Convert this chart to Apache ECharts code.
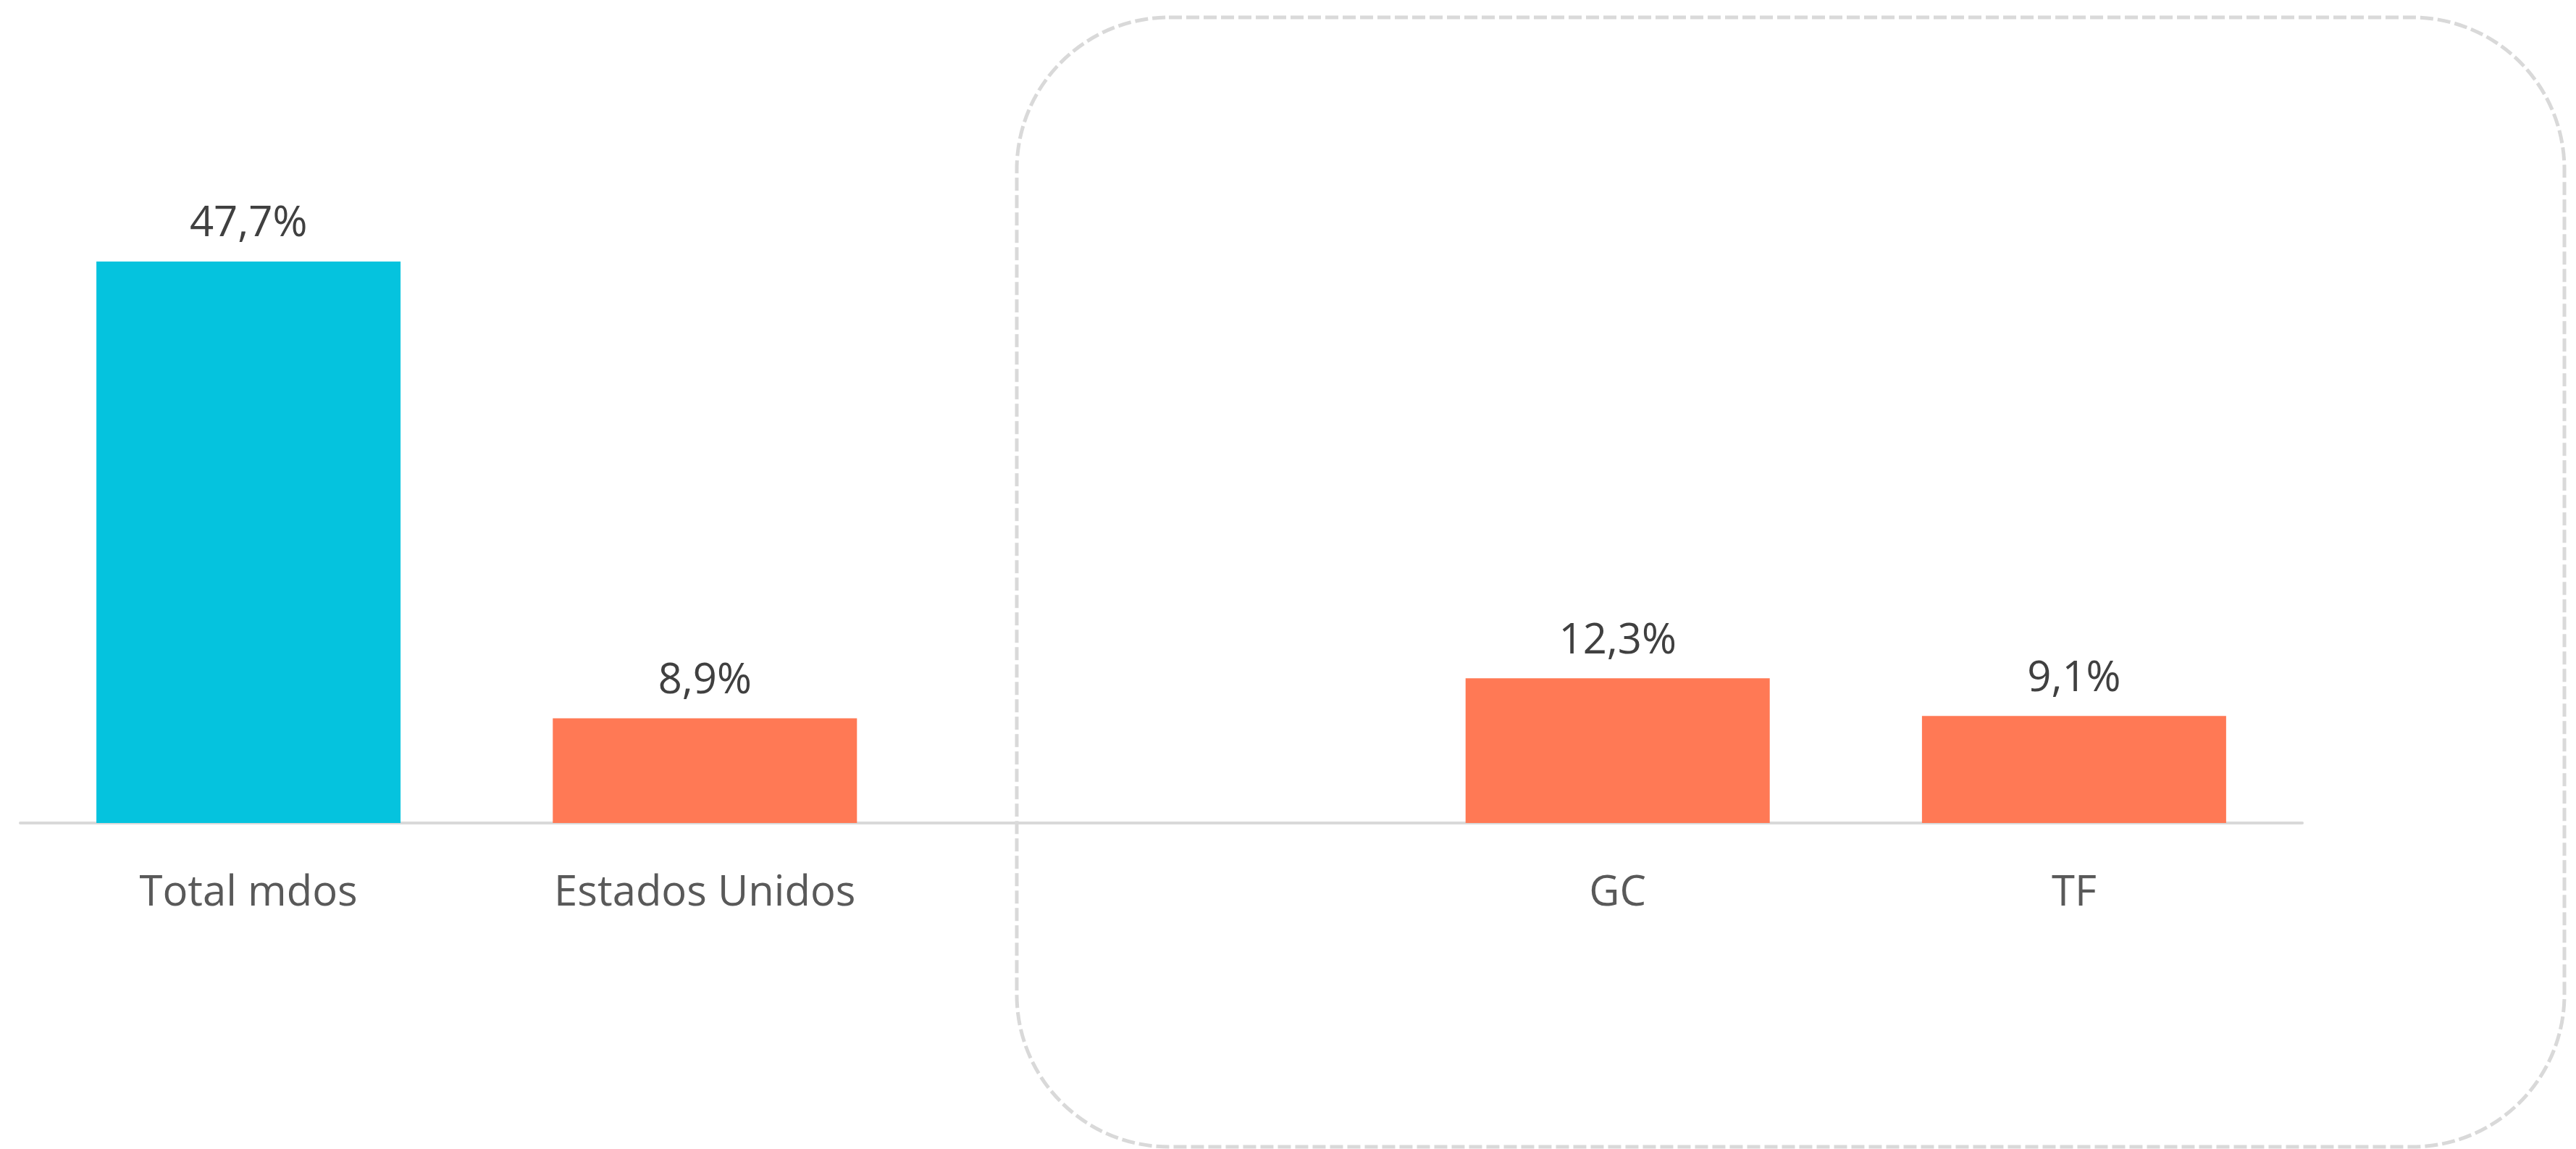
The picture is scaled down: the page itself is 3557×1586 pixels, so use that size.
<!DOCTYPE html>
<html>
<head>
<meta charset="utf-8">
<style>
html,body{margin:0;padding:0;background:#fff;}
#chart{width:3557px;height:1586px;}
</style>
<script src="https://cdn.jsdelivr.net/npm/echarts@6/dist/echarts.min.js"></script>
</head>
<body>
<div id="chart"></div>
<script>
var categories = ["Total mdos", "Estados Unidos", "", "GC", "TF"];
var values = [47.7, 8.9, null, 12.3, 9.1];
var barColors = ["#05C3DE", "#FF7955", "#FF7955", "#FF7955", "#FF7955"];

var chart = echarts.init(document.getElementById('chart'));
var seriesData = values.map(function (v, i) {
  return { value: v, itemStyle: { color: barColors[i] } };
});
chart.setOption({
  animation: false,
  backgroundColor: '#ffffff',
  grid: { left: 28, width: 3151, top: 161, bottom: 450, containLabel: false },
  xAxis: {
    type: 'category',
    data: categories,
    offset: 2,
    axisLine: { show: true, lineStyle: { color: '#D9D9D9', width: 4 } },
    axisTick: { show: false },
    axisLabel: {
      margin: 66,
      color: '#595959',
      fontFamily: 'Open Sans',
      fontSize: 58
    }
  },
  yAxis: {
    type: 'value', min: 0, max: 60, show: false,
    splitLine: { show: false }
  },
  series: [{
    type: 'bar',
    data: seriesData,
    barWidth: 420,
    label: {
      show: true,
      position: 'top',
      distance: 22,
      color: '#404040',
      fontFamily: 'Open Sans',
      fontSize: 58,
      formatter: function (p) {
        return p.value == null ? '' : p.value.toFixed(1).replace('.', ',') + '%';
      }
    }
  }],
  graphic: [{
    type: 'rect',
    silent: true,
    shape: { x: 1404, y: 24, width: 2137, height: 1559, r: 210 },
    style: { fill: 'none', stroke: '#D9D9D9', lineWidth: 5, lineDash: [18, 6] }
  }]
});
</script>
</body>
</html>
